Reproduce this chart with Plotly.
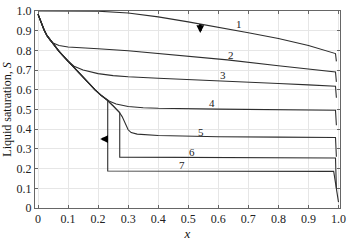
import plotly.graph_objects as go

# Shared initial envelope
env_x = [0.0, 0.01, 0.02, 0.03, 0.05, 0.07, 0.10, 0.13, 0.16, 0.19, 0.21, 0.23, 0.25, 0.27]
env_s = [0.984, 0.94, 0.905, 0.875, 0.835, 0.795, 0.745, 0.695, 0.648, 0.60, 0.572, 0.548, 0.518, 0.487]

c1_x = [0.0, 0.1, 0.2, 0.3, 0.4, 0.5, 0.6, 0.7, 0.8, 0.9, 0.99, 0.993]
c1_s = [1.0, 1.0, 0.999, 0.99, 0.97, 0.945, 0.918, 0.89, 0.86, 0.825, 0.784, 0.744]

c2_x = [0.0, 0.01, 0.02, 0.03, 0.04, 0.05, 0.07, 0.10, 0.15, 0.2, 0.3, 0.4, 0.5, 0.63, 0.8, 0.99, 0.993]
c2_s = [0.984, 0.94, 0.905, 0.875, 0.852, 0.838, 0.825, 0.817, 0.811, 0.808, 0.798, 0.785, 0.772, 0.752, 0.722, 0.69, 0.64]

c3_x = env_x[:7] + [0.12, 0.15, 0.2, 0.25, 0.3, 0.4, 0.5, 0.6, 0.7, 0.8, 0.9, 0.99, 0.993]
c3_s = env_s[:7] + [0.72, 0.70, 0.682, 0.672, 0.666, 0.659, 0.653, 0.646, 0.639, 0.632, 0.625, 0.618, 0.56]

c4_x = env_x[:12] + [0.24, 0.26, 0.28, 0.30, 0.35, 0.4, 0.6, 0.8, 0.99, 0.993]
c4_s = env_s[:12] + [0.54, 0.528, 0.52, 0.515, 0.509, 0.506, 0.502, 0.499, 0.496, 0.42]

c5_x = env_x + [0.28, 0.29, 0.30, 0.31, 0.33, 0.4, 0.6, 0.8, 0.99, 0.993]
c5_s = env_s + [0.464, 0.432, 0.397, 0.383, 0.375, 0.368, 0.362, 0.36, 0.358, 0.26]

c6_x = env_x + [0.272, 0.272, 0.5, 0.99, 0.993]
c6_s = env_s + [0.484, 0.258, 0.256, 0.254, 0.10]

c7_x = env_x[:12] + [0.232, 0.232, 0.5, 0.984, 1.0]
c7_s = env_s[:12] + [0.546, 0.1875, 0.187, 0.186, 0.03]

curves = [(c1_x, c1_s), (c2_x, c2_s), (c3_x, c3_s), (c4_x, c4_s),
          (c5_x, c5_s), (c6_x, c6_s), (c7_x, c7_s)]

labels = ["1", "2", "3", "4", "5", "6", "7"]
label_x = [0.668, 0.642, 0.616, 0.58, 0.542, 0.513, 0.48]
label_y = [0.933, 0.775, 0.675, 0.534, 0.384, 0.284, 0.22]

tick_vals = [0, 0.1, 0.2, 0.3, 0.4, 0.5, 0.6, 0.7, 0.8, 0.9, 1.0]
tick_text = ["0", "0.1", "0.2", "0.3", "0.4", "0.5", "0.6", "0.7", "0.8", "0.9", "1.0"]

FONT = "Liberation Serif, Times New Roman, serif"
fig = go.Figure()
for cx, cs in curves:
    fig.add_trace(go.Scatter(x=cx, y=cs, mode="lines",
                             line=dict(color="#2e2e2e", width=1.1),
                             showlegend=False, hoverinfo="skip"))

for t, lx, ly in zip(labels, label_x, label_y):
    fig.add_annotation(x=lx, y=ly, text=t, showarrow=False,
                       font=dict(family=FONT, size=11, color="#222"))

# arrows
fig.add_annotation(x=0.54, y=0.888, ax=0.54, ay=0.94, axref="x", ayref="y",
                   xref="x", yref="y", showarrow=True, arrowhead=2,
                   arrowsize=0.6, arrowwidth=2.6, arrowcolor="#000", text="")
fig.add_annotation(x=0.207, y=0.35, ax=0.238, ay=0.35, axref="x", ayref="y",
                   xref="x", yref="y", showarrow=True, arrowhead=2,
                   arrowsize=0.6, arrowwidth=2.6, arrowcolor="#000", text="")

axis_common = dict(showgrid=True, gridcolor="#e6e6e6", gridwidth=1,
                   showline=True, linecolor="#666", linewidth=1, mirror="ticks",
                   ticks="inside", ticklen=3, tickcolor="#666",
                   tickfont=dict(family=FONT, size=12, color="#222"),
                   ticklabeloverflow="allow", zeroline=False)

fig.update_xaxes(range=[-0.01, 1.005], tickvals=tick_vals, ticktext=tick_text,
                 title=dict(text="<i>x</i>", font=dict(family=FONT, size=13, color="#111"),
                            standoff=1),
                 **axis_common)
fig.update_yaxes(range=[0, 1.0], tickvals=tick_vals, ticktext=tick_text,
                 title=dict(text="Liquid saturation, <i>S</i>",
                            font=dict(family=FONT, size=12, color="#111"), standoff=4),
                 **axis_common)

fig.update_layout(width=350, height=241,
                  margin=dict(l=33, r=4, t=5, b=28),
                  plot_bgcolor="white", paper_bgcolor="white")

fig.write_html("out.html", config={"displayModeBar": False},
               post_script="document.body.style.margin='0';document.body.style.overflow='hidden';")
